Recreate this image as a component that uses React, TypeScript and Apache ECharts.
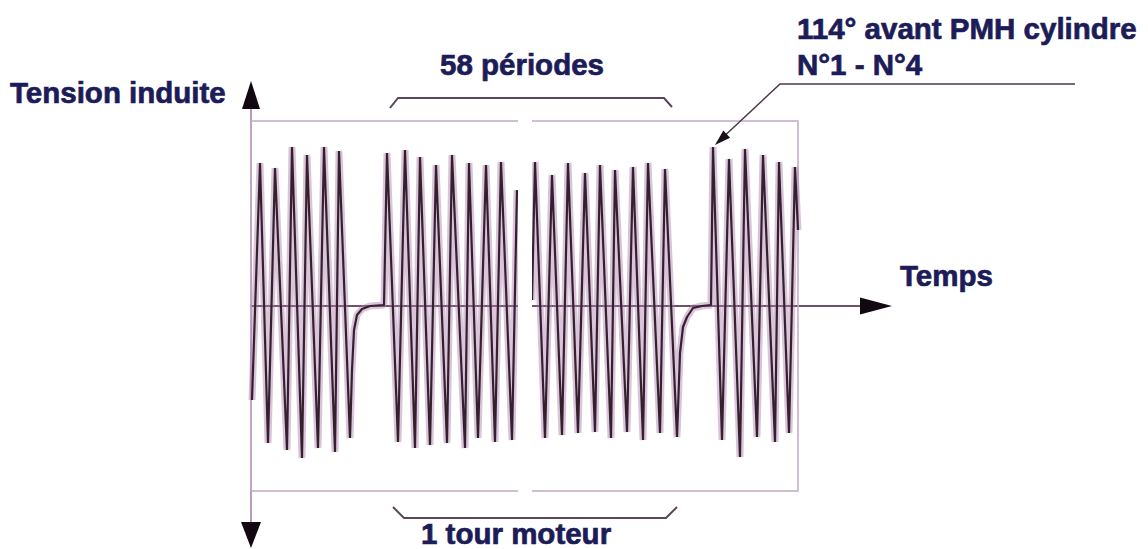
import React, { useEffect, useRef } from "react";
import * as echarts from "echarts";

// Time (arbitrary units) / induced voltage (arbitrary units)
const burst1: [number, number][] = [
  [0.1, -9.4], [0.9, 14.3], [1.7, -13.7], [2.4, 13.8], [3.6, -14.4], [4.1, 15.9],
  [5.1, -15.2], [5.6, 15.1], [6.7, -14.2], [7.3, 15.9], [8.4, -14.6], [8.8, 15.5], [9.9, -13.2],
];
const gap1: [number, number][] = [
  [10.1, -6.4], [10.3, -2.4], [10.6, -0.9], [11.1, -0.3], [11.9, 0], [13.3, 0.1],
];
const burst2: [number, number][] = [
  [13.6, 15.3], [14.7, -13.6], [15.4, 15.6], [16.4, -14.2], [16.9, 14.9], [17.9, -13.9],
  [18.5, 14.1], [19.6, -13.7], [20.1, 15.1], [21.4, -14.2], [21.8, 14.3], [22.7, -13.2],
  [23.5, 14.1], [24.4, -13.6], [25.0, 14.4], [26.1, -13.4], [26.6, 11.6],
];
const burst3: [number, number][] = [
  [28.1, 0.6], [28.4, 14.4], [29.4, -13.2], [30.1, 13.1], [31.1, -12.9], [31.7, 14.3],
  [32.7, -12.7], [33.4, 13.3], [34.4, -12.6], [34.9, 14.1], [36.0, -13.2], [36.4, 13.6],
  [37.6, -12.6], [38.2, 13.9], [39.2, -13.4], [39.7, 14.3], [40.9, -12.7], [41.4, 13.7], [42.6, -13.1],
];
const gap2: [number, number][] = [
  [42.9, -4.7], [43.2, -2.1], [43.6, -1.1], [44.2, -0.2], [45.1, 0], [46.0, 0.1],
];
const burst4: [number, number][] = [
  [46.2, 15.9], [47.1, -13.4], [47.8, 14.7], [48.9, -15.1], [49.4, 15.7], [50.6, -13.1],
  [51.2, 15.1], [52.4, -13.6], [52.8, 14.4], [53.8, -12.7], [54.4, 13.9], [54.7, 7.6],
];

const X_MIN = 0;
const X_MAX = 62.4;
const Y_MIN = -23;
const Y_MAX = 21;
const FRAME_X_END = 54.7;
const FRAME_Y = 18.5;

const yAxisTitle = "Tension induite";
const xAxisTitle = "Temps";
const topBraceLabel = "58 périodes";
const bottomBraceLabel = "1 tour moteur";
const noteLine1 = "114° avant PMH cylindre";
const noteLine2 = "N°1 - N°4";

const GRID = { left: 251, top: 96, width: 624, height: 440 };

const TEXT_COLOR = "#1c1c58";
const FONT = '"Liberation Sans", Arial, sans-serif';

export default function App() {
  const ref = useRef<HTMLDivElement>(null);

  useEffect(() => {
    if (!ref.current) return;
    const chart = echarts.init(ref.current, undefined, { renderer: "svg" });

    const leftPart = [...burst1, ...gap1, ...burst2];
    const rightPart = [...burst3, ...gap2, ...burst4];

    const halo = (data: [number, number][]) => ({
      type: "line",
      data,
      symbol: "none",
      silent: true,
      z: 2,
      lineStyle: { color: "rgba(170,125,170,0.45)", width: 7 },
    });
    const core = (data: [number, number][]) => ({
      type: "line",
      data,
      symbol: "none",
      silent: true,
      z: 3,
      lineStyle: { color: "#35202f", width: 2.2 },
    });

    const text = (t: string, x: number, y: number) => ({
      type: "text",
      x,
      y,
      z: 60,
      style: {
        text: t,
        fill: TEXT_COLOR,
        stroke: TEXT_COLOR,
        lineWidth: 0.7,
        fontSize: 29.5,
        fontWeight: "bold",
        fontFamily: FONT,
        align: "left",
        verticalAlign: "middle",
      },
    });

    const axisLeft = GRID.left;
    const zeroY = GRID.top + GRID.height * (Y_MAX / (Y_MAX - Y_MIN));

    chart.setOption({
      animation: false,
      backgroundColor: "#ffffff",
      grid: { ...GRID, containLabel: false, outerBoundsMode: "none" },
      xAxis: {
        type: "value",
        min: X_MIN,
        max: X_MAX,
        axisLine: { show: true, onZero: true, lineStyle: { color: "#6e526c", width: 2 } },
        axisTick: { show: false },
        axisLabel: { show: false },
        splitLine: { show: false },
      },
      yAxis: {
        type: "value",
        min: Y_MIN,
        max: Y_MAX,
        axisLine: { show: true, lineStyle: { color: "#b89cb8", width: 2 } },
        axisTick: { show: false },
        axisLabel: { show: false },
        splitLine: { show: false },
      },
      series: [
        {
          ...halo(leftPart),
          markArea: {
            silent: true,
            itemStyle: { color: "transparent", borderColor: "#c4a9c4", borderWidth: 1.5 },
            data: [[{ coord: [X_MIN, FRAME_Y] }, { coord: [FRAME_X_END, -FRAME_Y] }]],
          },
        },
        core(leftPart),
        halo(rightPart),
        core(rightPart),
      ],
      graphic: [
        // cut in the drawing
        { type: "rect", z: 50, shape: { x: 518, y: 112, width: 14, height: 390 }, style: { fill: "#ffffff" } },
        // axis arrowheads
        {
          type: "polygon", z: 55,
          shape: { points: [[axisLeft - 9, 109], [axisLeft + 9, 109], [axisLeft, 81]] },
          style: { fill: "#120812" },
        },
        {
          type: "polygon", z: 55,
          shape: { points: [[axisLeft - 10, 522], [axisLeft + 10, 522], [axisLeft, 548]] },
          style: { fill: "#120812" },
        },
        {
          type: "polygon", z: 55,
          shape: { points: [[860, zeroY - 8.5], [860, zeroY + 8.5], [892, zeroY]] },
          style: { fill: "#120812" },
        },
        // braces
        {
          type: "polyline", z: 55,
          shape: { points: [[390, 108], [398, 98], [664, 98], [672, 107]] },
          style: { stroke: "#5a4658", lineWidth: 2, fill: "none" },
        },
        {
          type: "polyline", z: 55,
          shape: { points: [[393, 507], [404, 518], [666, 518], [677, 507]] },
          style: { stroke: "#5a4658", lineWidth: 2, fill: "none" },
        },
        // annotation leader
        {
          type: "polyline", z: 55,
          shape: { points: [[1075, 84], [780, 84], [726, 134.5]] },
          style: { stroke: "#4a3a4a", lineWidth: 1.5, fill: "none" },
        },
        {
          type: "polygon", z: 55,
          shape: { points: [[715, 145], [730.1, 137.7], [723.3, 130.5]] },
          style: { fill: "#1a101a" },
        },
        text(yAxisTitle, 10, 92),
        text(topBraceLabel, 440, 64),
        text(xAxisTitle, 900, 275),
        text(bottomBraceLabel, 421, 533),
        text(noteLine1, 797, 28),
        text(noteLine2, 797, 64),
      ],
    });

    return () => chart.dispose();
  }, []);

  return (
    <div
      ref={ref}
      style={{ position: "fixed", left: 0, top: 0, width: 1148, height: 549, background: "#fff" }}
    />
  );
}
